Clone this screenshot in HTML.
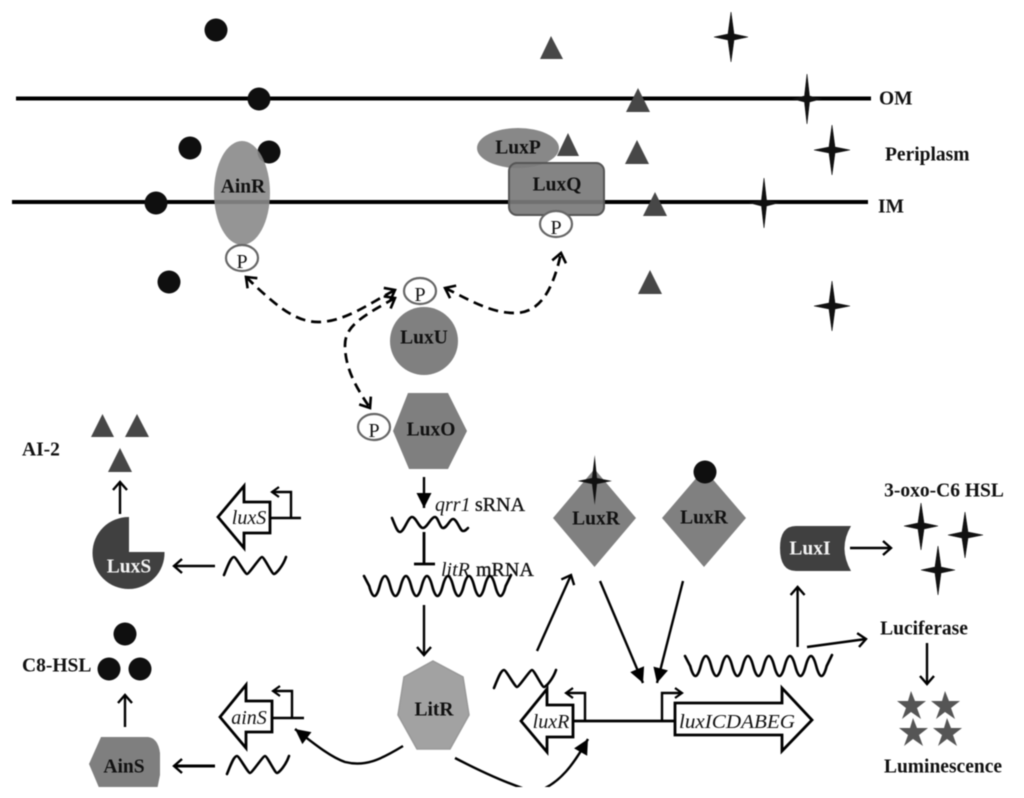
<!DOCTYPE html>
<html>
<head>
<meta charset="utf-8">
<style>
html,body{margin:0;padding:0;background:#fff;width:1024px;height:798px;overflow:hidden}
svg{display:block;filter:blur(.4px)}
text{font-family:"Liberation Serif",serif;font-weight:bold;font-size:19.5px;fill:#111;text-anchor:middle;dominant-baseline:central;transform:translateY(1px)}
.l{text-anchor:start}
.i{font-weight:normal;font-style:italic;font-size:20px}
.w{fill:#f4f4f4}
.p{font-weight:normal;font-size:20px}
.m{font-size:20px;font-weight:normal;stroke:#111;stroke-width:.35px}
.ln{fill:none;stroke:#000;stroke-width:2.4}
.wv{fill:none;stroke:#000;stroke-width:2.6;stroke-linejoin:round;stroke-linecap:round}
.gene{fill:#fff;stroke:#000;stroke-width:2.8}
.pc{fill:#fff;stroke:#666;stroke-width:2.2}
.da{fill:none;stroke:#000;stroke-width:2.7;stroke-dasharray:10 6}
</style>
</head>
<body>
<svg width="1024" height="798" viewBox="0 0 1024 798" xmlns="http://www.w3.org/2000/svg">
<defs>
<marker id="o" markerUnits="userSpaceOnUse" markerWidth="20" markerHeight="20" refX="12" refY="10" orient="auto-start-reverse" overflow="visible"><path d="M4 3 L12 10 L4 17" fill="none" stroke="#000" stroke-width="2.4"/></marker>
<marker id="f" markerUnits="userSpaceOnUse" markerWidth="22" markerHeight="22" refX="15" refY="11" orient="auto" overflow="visible"><path d="M0 3.500 L15 11 L0 18.500 Z" fill="#000"/></marker>
<marker id="s" markerUnits="userSpaceOnUse" markerWidth="20" markerHeight="20" refX="10" refY="10" orient="auto-start-reverse" overflow="visible"><path d="M3 5 L10 10 L3 15" fill="none" stroke="#000" stroke-width="2.200"/></marker>
<marker id="d" markerUnits="userSpaceOnUse" markerWidth="20" markerHeight="20" refX="11" refY="10" orient="auto-start-reverse" overflow="visible"><path d="M2 3 L11 10 L2 17" fill="none" stroke="#000" stroke-width="2.600"/></marker>
<clipPath id="c"><rect x="0" y="0" width="1024" height="787"/></clipPath>
</defs>

<g clip-path="url(#c)">
<!-- membranes -->
<rect x="16" y="96.5" width="855" height="4" fill="#000"/>
<rect x="12" y="200" width="856" height="4" fill="#000"/>

<!-- black circles -->
<g fill="#0f0f0f">
<circle cx="216" cy="30" r="11.5"/><circle cx="259" cy="99" r="11.5"/><circle cx="190" cy="148" r="11.5"/>
<circle cx="269" cy="152" r="11.5"/><circle cx="156" cy="203" r="11.5"/><circle cx="169" cy="282" r="11.5"/>
<circle cx="125" cy="634" r="11.5"/><circle cx="109" cy="669" r="11.5"/><circle cx="140" cy="669" r="11.5"/>
</g>

<!-- triangles -->
<g fill="#474747">
<path d="M551 36 L563 59 L540 59Z"/><path d="M638 88 L650 112 L626 112Z"/><path d="M637 140 L649 164 L625 164Z"/>
<path d="M655 192 L667 216 L643 216Z"/><path d="M650 270 L662 294 L638 294Z"/>
<path d="M102.500 414 L114 437 L91 437Z"/><path d="M137 414 L149 437 L125 437Z"/><path d="M120 448 L132 472 L108 472Z"/>
</g>

<!-- four point stars -->
<g fill="#111" stroke="#111" stroke-width=".6">
<path d="M731 12 L734 34 L748 37 L734 40 L731 62 L728 40 L714 37 L728 34Z"/>
<path d="M807 74 L809.500 96 L821 99 L809.500 102 L807 124 L804.500 102 L793 99 L804.500 96Z"/>
<path d="M832 125 L835 147 L850 150 L835 153 L832 175 L829 153 L814 150 L829 147Z"/>
<path d="M764 178 L766.500 200 L778 203 L766.500 206 L764 228 L761.500 206 L750 203 L761.500 200Z"/>
<path d="M832 281 L835 303 L850 306 L835 309 L832 331 L829 309 L814 306 L829 303Z"/>
<path d="M921 503 L924 523 L938 526 L924 529 L921 550 L918 529 L904 526 L918 523Z"/>
<path d="M965 512 L968 532 L983 535 L968 538 L965 558 L962 538 L948 535 L962 532Z"/>
<path d="M938 546 L941 567 L955 570 L941 573 L938 595 L935 573 L921 570 L935 567Z"/>
</g>

<!-- AinR -->
<ellipse cx="242" cy="193" rx="28" ry="52" fill="#8a8a8a" opacity=".9"/>
<text x="243" y="186">AinR</text>
<ellipse class="pc" cx="242" cy="258" rx="16" ry="13"/><text class="p" x="242" y="261">P</text>

<!-- LuxP / LuxQ -->
<path d="M557 156 L568 133 L579 156Z" fill="#474747"/>
<ellipse cx="518" cy="148" rx="41" ry="20" fill="#888"/>
<rect x="509" y="163" width="95" height="52" rx="8" fill="#7a7a7a" fill-opacity=".92" stroke="#555" stroke-width="2"/>
<text x="518" y="147">LuxP</text>
<text x="557" y="184">LuxQ</text>
<ellipse class="pc" cx="556" cy="224" rx="16" ry="13"/><text class="p" x="556" y="227">P</text>

<!-- LuxU -->
<circle cx="424" cy="341" r="34" fill="#808080"/>
<text x="424" y="337">LuxU</text>
<ellipse class="pc" cx="420" cy="291" rx="16" ry="13"/><text class="p" x="420" y="294">P</text>

<!-- LuxO -->
<path d="M408 393 L448 393 L467 431 L448 469 L409 469 L393 431Z" fill="#7f7f7f"/>
<text x="431" y="429">LuxO</text>
<ellipse class="pc" cx="374" cy="427" rx="16" ry="13"/><text class="p" x="374" y="430">P</text>

<!-- dashed connectors -->
<path class="da" d="M246 277 C275 305 295 322 318 322 C345 322 370 303 395 290" marker-start="url(#d)" marker-end="url(#d)"/>
<path class="da" d="M445 288 C470 300 490 313 515 313 C540 313 553 290 561 253" marker-start="url(#d)" marker-end="url(#d)"/>
<path class="da" d="M395 298 C365 315 345 325 345 345 C345 370 358 390 370 408" marker-start="url(#d)" marker-end="url(#d)"/>

<!-- qrr1 -->
<line class="ln" x1="424" y1="477" x2="424" y2="508" marker-end="url(#f)"/>
<path class="wv" d="M392 518 C395 525 397 532 400 532 C404 532 408 517 412 517 C416 517 419 528 423 528 C427 528 431 517 435 517 C438 517 440 528 443 528 C447 528 450 519 453 519 C457 519 460 531 463 531 C465 531 466 530 468 528"/>
<text class="l i" x="435" y="504">qrr1</text><text class="l m" x="475" y="504">sRNA</text>
<line class="ln" style="stroke-width:2.8" x1="424" y1="532" x2="424" y2="564"/>
<line class="ln" style="stroke-width:2.8" x1="414" y1="564" x2="435" y2="564"/>
<text class="l i" x="441" y="569">litR</text><text class="l m" x="476" y="569">mRNA</text>
<g transform="translate(-321,-80)"><path class="wv" d="M685 656 L690.200 666 q5.250 20 10.500 0 t10.500 0 t10.500 0 t10.500 0 t10.500 0 t10.500 0 t10.500 0 t10.500 0 t10.500 0 t10.500 0 t10.500 0 t10.500 0 t10.500 0 L832 655"/></g>
<line class="ln" x1="424" y1="605" x2="424" y2="655" marker-end="url(#o)"/>

<!-- LitR -->
<path d="M433 661 L463 677 L469 715 L450 749 L417 749 L398 715 L404 677Z" fill="#a2a2a2" stroke="#999" stroke-width="1.500"/>
<text x="434" y="709">LitR</text>

<!-- LuxS column -->
<line class="ln" x1="120" y1="514" x2="120" y2="482" marker-end="url(#o)"/>
<path d="M129 552 L129 517 A36 36 0 1 0 164.500 552Z" fill="#404040"/>
<text class="w" x="129" y="566">LuxS</text>
<text class="l" x="22" y="449">AI-2</text>
<line class="ln" x1="215" y1="566" x2="174" y2="566" marker-end="url(#o)"/>
<path class="wv" d="M224 575 C228 565 231 557 234 557 C236 557 245 574 247 574 C249 574 260 557 262 557 C264 557 272 574 274 574 C276 574 283 566 286 557"/>
<path class="gene" d="M218 517 L244 486 L244 502 L270 502 L270 533 L244 533 L244 548Z"/>
<text class="i" x="249" y="517">luxS</text>
<path class="ln" d="M270 518 L301 518 M291 518 L291 492 L272 492" marker-end="url(#s)"/>

<!-- AinS column -->
<text class="l" x="22" y="665">C8-HSL</text>
<line class="ln" x1="125" y1="727" x2="125" y2="695" marker-end="url(#o)"/>
<path d="M89 764 L101 737 L148 737 Q158 738 160 753 L160 775 L157 790 L100 790Z" fill="#7f7f7f"/>
<text x="124" y="766">AinS</text>
<line class="ln" style="stroke-width:3" x1="215" y1="766" x2="174" y2="766" marker-end="url(#o)"/>
<path class="wv" transform="translate(3,199)" d="M224 575 C228 565 231 557 234 557 C236 557 245 574 247 574 C249 574 260 557 262 557 C264 557 272 574 274 574 C276 574 283 566 286 557"/>
<path class="gene" d="M220 717 L246 685 L246 701 L272 701 L272 732 L246 732 L246 748Z"/>
<text class="i" x="249" y="717">ainS</text>
<path class="ln" d="M272 718 L304 718 M292 718 L292 691 L273 691" marker-end="url(#s)"/>

<!-- curves from LitR -->
<path class="ln" d="M403 746 C380 760 365 767 345 762 C330 757 312 742 295 729" marker-end="url(#f)"/>
<path class="ln" d="M455 758 C480 771 510 785 535 792 C560 785 575 762 588 739" marker-end="url(#f)"/>

<!-- LuxR complexes -->
<path d="M594.500 469 L636 518 L594.500 567 L553 518Z" fill="#808080"/>
<path d="M594.700 455 L597 478 L612 481 L597 484 L594.700 505 L592 484 L577.600 481 L592 478Z" fill="#111"/>
<text x="596" y="518">LuxR</text>
<path d="M704 469 L746 518 L704 567 L662 518Z" fill="#808080"/>
<circle cx="705" cy="472" r="11.500" fill="#0f0f0f"/>
<text x="704" y="517">LuxR</text>

<line class="ln" x1="537" y1="651" x2="571" y2="575" marker-end="url(#o)"/>
<line class="ln" x1="600" y1="581" x2="643" y2="683" marker-end="url(#f)"/>
<line class="ln" x1="683" y1="581" x2="657" y2="683" marker-end="url(#f)"/>

<!-- lux operon -->
<path class="wv" transform="translate(270,113)" d="M224 575 C228 565 231 557 234 557 C236 557 245 574 247 574 C249 574 260 557 262 557 C264 557 272 574 274 574 C276 574 283 566 286 557"/>
<line class="ln" style="stroke-width:2.800" x1="573" y1="721" x2="675" y2="721"/>
<path class="gene" d="M521 721 L547 689 L547 705 L573 705 L573 737 L547 737 L547 752Z"/>
<text class="i" x="551" y="721">luxR</text>
<path class="ln" d="M585 721 L585 693 L566 693" marker-end="url(#s)"/>
<path class="ln" d="M662 721 L662 693 L682 693" marker-end="url(#s)"/>
<path class="gene" d="M675 703 L782 703 L782 688 L812 720 L782 751 L782 735 L675 735Z"/>
<text class="l i" x="679" y="721" textLength="116" lengthAdjust="spacingAndGlyphs">luxICDABEG</text>
<path class="wv" d="M685 656 L690.200 666 q5.250 20 10.500 0 t10.500 0 t10.500 0 t10.500 0 t10.500 0 t10.500 0 t10.500 0 t10.500 0 t10.500 0 t10.500 0 t10.500 0 t10.500 0 t10.500 0 L832 655"/>
<line class="ln" x1="797.600" y1="647" x2="797.600" y2="587" marker-end="url(#o)"/>
<line class="ln" x1="807" y1="647" x2="866" y2="639" marker-end="url(#o)"/>

<!-- LuxI -->
<path d="M796 526 L851 526 Q838 548 851 571 L796 571 Q780 571 780 548 Q780 526 796 526Z" fill="#404040"/>
<text class="w" x="810" y="548">LuxI</text>
<line class="ln" x1="850" y1="548" x2="891" y2="548" marker-end="url(#o)"/>
<text x="944" y="490">3-oxo-C6 HSL</text>
<text x="924" y="628">Luciferase</text>
<line class="ln" x1="927" y1="643" x2="927" y2="684" marker-end="url(#o)"/>
<g fill="#555">
<path d="M911 691 L915 701 L926 701 L917 708 L921 719 L911 712 L902 719 L906 708 L897 701 L908 701Z"/>
<path d="M945 691 L949 701 L960 701 L951 708 L955 719 L945 712 L936 719 L940 708 L931 701 L942 701Z"/>
<path d="M913 718 L917 728 L928 728 L919 735 L923 746 L913 739 L904 746 L908 735 L899 728 L910 728Z"/>
<path d="M947 718 L951 728 L962 728 L953 735 L957 746 L947 739 L938 746 L942 735 L933 728 L944 728Z"/>
</g>
<text x="943" y="766">Luminescence</text>

<!-- membrane labels -->
<text class="l" x="879" y="98">OM</text>
<text class="l" x="885" y="154">Periplasm</text>
<text class="l" x="878" y="206">IM</text>
</g>
</svg>
</body>
</html>
